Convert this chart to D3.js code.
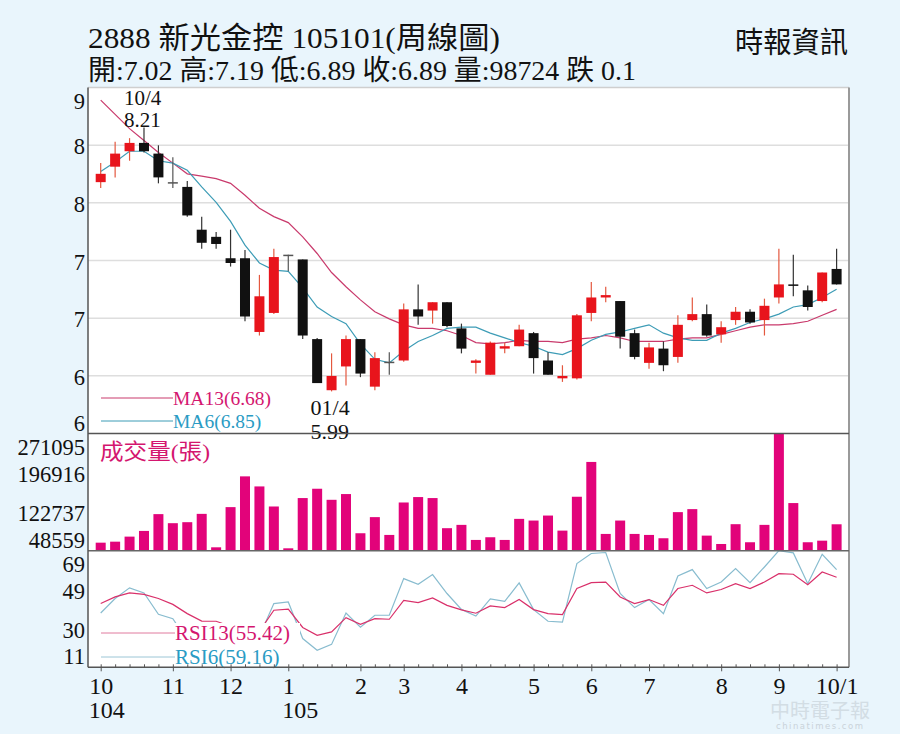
<!DOCTYPE html>
<html><head><meta charset="utf-8">
<script src="https://cdn.jsdelivr.net/npm/d3@7"></script>
<style>body{margin:0;background:#e9f5fc;} svg{display:block}</style>
</head><body>
<svg id="c" width="900" height="734"></svg>
<script>
// ---------- data ----------
const opens  = [7.75,7.88,8.01,8.08,7.99,7.75,7.71,7.35,7.29,7.11,7.11,6.49,6.65,7.14,7.10,6.43,6.00,6.20,6.43,6.03,6.24,6.25,6.68,6.67,6.74,6.52,6.23,6.13,6.35,6.37,6.48,6.25,6.10,6.10,6.65,6.78,6.75,6.48,6.23,6.35,6.28,6.59,6.64,6.47,6.59,6.66,6.59,6.78,6.89,6.84,6.75,7.02];
const highs  = [7.91,8.09,8.12,8.21,8.06,7.96,7.76,7.46,7.33,7.35,7.18,6.97,7.19,7.14,7.10,6.44,6.31,6.46,6.43,6.32,6.32,6.73,6.89,6.74,6.74,6.56,6.26,6.41,6.40,6.55,6.49,6.32,6.21,6.64,6.91,6.87,6.75,6.51,6.40,6.41,6.63,6.78,6.72,6.58,6.70,6.68,6.77,7.19,7.14,6.88,6.99,7.19];
const lows   = [7.70,7.79,7.93,8.00,7.74,7.70,7.46,7.19,7.19,7.04,6.58,6.46,6.64,7.00,6.43,6.06,5.99,6.04,6.11,6.00,6.13,6.24,6.55,6.56,6.53,6.31,6.14,6.13,6.31,6.37,6.14,6.13,6.07,6.09,6.58,6.74,6.35,6.26,6.18,6.16,6.23,6.58,6.45,6.40,6.55,6.56,6.46,6.73,6.79,6.67,6.74,6.89];
const closes = [7.82,7.99,8.08,8.01,7.79,7.75,7.47,7.24,7.23,7.07,6.62,6.79,7.12,7.14,6.46,6.06,6.12,6.43,6.14,6.27,6.24,6.68,6.62,6.74,6.54,6.35,6.25,6.40,6.37,6.51,6.27,6.13,6.12,6.63,6.78,6.80,6.45,6.28,6.36,6.21,6.55,6.64,6.46,6.53,6.66,6.57,6.71,6.89,6.88,6.70,6.99,6.89];
const ma13 = [8.44,8.32,8.20,8.10,8.00,7.91,7.82,7.80,7.78,7.74,7.64,7.53,7.46,7.41,7.29,7.15,6.99,6.87,6.76,6.66,6.60,6.55,6.52,6.52,6.50,6.46,6.40,6.39,6.40,6.42,6.41,6.41,6.40,6.43,6.44,6.46,6.44,6.41,6.41,6.41,6.43,6.44,6.44,6.47,6.50,6.53,6.55,6.55,6.56,6.58,6.63,6.68];
const ma6  = [7.84,7.92,8.01,8.01,7.93,7.91,7.85,7.71,7.58,7.42,7.22,7.07,7.01,7.00,6.86,6.70,6.62,6.56,6.39,6.26,6.23,6.33,6.41,6.46,6.52,6.53,6.53,6.48,6.44,6.40,6.37,6.32,6.30,6.35,6.42,6.47,6.49,6.52,6.55,6.48,6.44,6.42,6.42,6.48,6.52,6.57,6.60,6.64,6.70,6.72,6.78,6.85];
const volumes = [63800,65700,75300,86100,118000,100800,102700,118500,55000,131300,189700,170600,132500,53100,148500,166200,145200,156100,81700,112300,78500,140100,150400,148500,91300,97600,69000,74100,69000,109000,105800,115300,86700,151000,217100,80400,105800,80400,78500,72200,121800,127500,77200,61300,98900,64600,97600,271095,139000,64600,67600,98724];
const rsi13 = [42.3,45.6,47.6,46.9,44.8,41.9,37.3,33.6,33.5,31.0,26.0,28.5,39.0,39.5,30.4,26.5,28.2,35.3,32.0,34.8,34.5,43.9,42.8,45.1,41.4,39.2,37.5,41.1,40.3,44.3,39.3,37.3,36.8,49.8,52.7,53.0,45.6,42.3,44.3,41.4,49.8,51.4,47.6,49.3,52.2,49.8,53.0,57.2,56.9,51.7,58.0,55.42];
const rsi6  = [37.6,44.8,50.1,47.6,37.0,34.8,24.0,22.0,20.0,19.0,14.0,26.0,42.3,43.1,24.9,19.1,22.0,37.6,30.6,36.5,36.5,54.7,51.9,56.7,47.3,39.4,36.1,44.6,43.4,52.6,39.3,33.5,33.1,62.2,67.2,67.7,47.3,40.3,44.3,37.3,56.0,59.2,49.8,53.0,59.7,52.7,60.5,68.6,67.5,52.2,66.8,59.16];

const priceTicks = [8.546,8.061,7.576,7.091,6.606,6.121,5.636];
const priceTickLabels = ["9","8","8","7","7","6","6"];
const volTicks = [271095,196916,122737,48559];
const rsiTicks = [68.6,49.2,29.9,10.6];
const rsiTickLabels = ["69","49","30","11"];
const monthIdx = [0,5,9,13,18,21,25,30,34,38,43,47,51];
const monthLabels = ["10","11","12","1","2","3","4","5","6","7","8","9","10/1"];
const yearIdx = [0,13];
const yearLabels = ["104","105"];

// ---------- layout ----------
const X0=88, X1=849, PT=87.5, PB=433.5, VB=550.7, RB=667.3;
const SERIF = "'Liberation Serif','Noto Sans CJK TC',serif";
const svg = d3.select('#c');
svg.append('rect').attr('width',900).attr('height',734).attr('fill','#e9f5fc');
svg.append('rect').attr('x',X0).attr('y',PT).attr('width',X1-X0).attr('height',RB-PT).attr('fill','#fff');

const x = d3.scaleLinear().domain([0,51]).range([100.7,836.6]);
const y = d3.scaleLinear().domain([priceTicks[6],priceTicks[0]]).range([PB,PT]);
const yv = d3.scaleLinear().domain([volTicks[3],volTicks[0]]).range([VB,PB]);
const yr = d3.scaleLinear().domain([rsiTicks[3],rsiTicks[0]]).range([RB,VB]);

// grid in price panel
svg.append('g').selectAll('line').data(priceTicks.slice(1,6)).join('line')
  .attr('x1',X0).attr('x2',X1).attr('y1',d=>y(d)).attr('y2',d=>y(d))
  .attr('stroke','#dedede').attr('stroke-width',1.5);

// MA lines
const lineP = d3.line().x((d,i)=>x(i)).y(d=>y(d));
svg.append('path').datum(ma13).attr('d',lineP).attr('fill','none').attr('stroke','#c93a6c').attr('stroke-width',1.2);
svg.append('path').datum(ma6).attr('d',lineP).attr('fill','none').attr('stroke','#3d9cb6').attr('stroke-width',1.2);

// candles
const cdata = opens.map((o,i)=>({i,o,h:highs[i],l:lows[i],c:closes[i]}));
const col = d=> d.c>d.o ? '#e8141c' : (d.c<d.o ? '#111111' : '#555555');
const wcol = d=> d.c>d.o ? '#e4583f' : (d.c<d.o ? '#333333' : '#555555');
const cg = svg.append('g');
cg.selectAll('line.w').data(cdata).join('line').attr('class','w')
  .attr('x1',d=>x(d.i)).attr('x2',d=>x(d.i)).attr('y1',d=>y(d.h)).attr('y2',d=>y(d.l))
  .attr('stroke',wcol).attr('stroke-width',1.2);
cg.selectAll('rect').data(cdata).join('rect')
  .attr('x',d=>x(d.i)-5).attr('width',10)
  .attr('y',d=>y(Math.max(d.o,d.c)))
  .attr('height',d=>Math.max(1.5, Math.abs(y(d.o)-y(d.c))))
  .attr('fill',col);

// price labels
const lab = (t,xx,yy,opt={})=>svg.append('text').attr('x',xx).attr('y',yy).text(t)
  .attr('font-family',SERIF).attr('font-size',opt.size||22).attr('fill',opt.fill||'#111')
  .attr('text-anchor',opt.anchor||'start');
const hiI = highs.indexOf(d3.max(highs)), loI = lows.indexOf(d3.min(lows));
lab('10/4', x(hiI)-20, 105, {size:21});
lab(d3.max(highs).toFixed(2), x(hiI)-20, 127, {size:21});
lab('01/4', x(loI)-21, 415, {size:22});
lab(d3.min(lows).toFixed(2), x(loI)-21, 439, {size:22});

// legends
function legend(yy, color, tcolor, text, x2, fs){
  svg.append('line').attr('x1',101).attr('x2',x2).attr('y1',yy).attr('y2',yy).attr('stroke',color).attr('stroke-width',1);
  svg.append('text').attr('x',x2).attr('y',yy+7).text(text).attr('font-family',SERIF)
    .attr('font-size',fs).attr('fill',tcolor);
}
legend(398, '#c93a6c', '#d4166f', 'MA13('+ma13[51].toFixed(2)+')', 173, 19.5);
legend(421, '#3d9cb6', '#2a9bc4', 'MA6('+ma6[51].toFixed(2)+')', 173, 19.5);

// volume bars
svg.append('g').selectAll('rect').data(volumes).join('rect')
  .attr('x',(d,i)=>x(i)-5).attr('width',10)
  .attr('y',d=>Math.min(yv(d),VB-2)).attr('height',d=>Math.max(2,VB-yv(d)))
  .attr('fill','#e2037a');
svg.append('text').attr('x',100).attr('y',459).text('成交量(張)').attr('font-family',SERIF)
  .attr('font-size',22).attr('fill','#d4166f').attr('textLength',110).attr('lengthAdjust','spacingAndGlyphs');

// RSI lines
const lineR = d3.line().x((d,i)=>x(i)).y(d=>yr(d));
svg.append('path').datum(rsi6).attr('d',lineR).attr('fill','none').attr('stroke','#88bccf').attr('stroke-width',1.2);
svg.append('path').datum(rsi13).attr('d',lineR).attr('fill','none').attr('stroke','#d9306a').attr('stroke-width',1.2);
// legend box hides lines behind it
svg.append('rect').attr('x',174).attr('y',623).attr('width',126).attr('height',RB-623).attr('fill','#fff');
legend(633, '#e07a9e', '#d4166f', 'RSI13('+rsi13[51].toFixed(2)+')', 175, 21);
legend(657, '#9cc6d6', '#2a9bc4', 'RSI6('+rsi6[51].toFixed(2)+')', 175, 21);

// frame / separators
svg.append('line').attr('x1',X0).attr('x2',X1).attr('y1',PT).attr('y2',PT).attr('stroke','#cfcfcf').attr('stroke-width',1.5);
svg.append('line').attr('x1',X1).attr('x2',X1).attr('y1',PT).attr('y2',RB).attr('stroke','#9a9a9a').attr('stroke-width',2);
svg.append('line').attr('x1',X0).attr('x2',X1).attr('y1',PB).attr('y2',PB).attr('stroke','#555').attr('stroke-width',1.5);
svg.append('line').attr('x1',X0).attr('x2',X1).attr('y1',VB).attr('y2',VB).attr('stroke','#666').attr('stroke-width',1.5);

// y axes
function yAxis(scale, ticks, labels, top, bottom){
  const g = svg.append('g').attr('transform',`translate(${X0},0)`)
    .call(d3.axisLeft(scale).tickValues(ticks).tickFormat((d,i)=>labels[i]).tickSize(0).tickPadding(3));
  g.select('.domain').remove();
  g.selectAll('text').attr('font-family',SERIF).attr('font-size',22.5).attr('fill','#111')
    .attr('dy',null).attr('dominant-baseline','central')
    .attr('y',function(d){const v=scale(d); return Math.min(Math.max(v,top+12),bottom-12)-v+1;});
}
yAxis(y, priceTicks, priceTickLabels, PT, PB);
yAxis(yv, volTicks, volTicks.map(String), PB, VB);
yAxis(yr, rsiTicks, rsiTickLabels, VB, RB);
svg.append('line').attr('x1',X0).attr('x2',X0).attr('y1',PT).attr('y2',RB).attr('stroke','#555').attr('stroke-width',1.5);

// x axis
const xg = svg.append('g').attr('transform',`translate(0,${RB})`)
  .call(d3.axisBottom(x).tickValues(d3.range(52)).tickSize(-3).tickFormat(''));
xg.select('.domain').attr('d',`M${X0},0H${X1}`).attr('stroke','#555').attr('stroke-width',1.5);
xg.selectAll('.tick line').attr('stroke','#555');
const xm = svg.append('g').attr('transform',`translate(0,${RB})`)
  .call(d3.axisBottom(x).tickValues(monthIdx).tickFormat((d,i)=>monthLabels[i]).tickSize(4).tickPadding(6));
xm.select('.domain').remove();
xm.selectAll('.tick line').attr('stroke','#555');
xm.selectAll('text').attr('font-family',SERIF).attr('font-size',24).attr('fill','#111');
yearIdx.forEach((idx,k)=>{
  const mt = xm.selectAll('text').filter(d=>d===idx).node();
  const bb = mt.getBBox();
  svg.append('text').attr('x',x(idx)+bb.x).attr('y',RB+51).text(yearLabels[k])
    .attr('font-family',SERIF).attr('font-size',24).attr('fill','#111');
});

// header
svg.append('text').attr('x',88).attr('y',48).text('2888  新光金控 105101(周線圖)')
  .attr('font-family',SERIF).attr('font-size',30).attr('fill','#111')
  .attr('textLength',412).attr('lengthAdjust','spacingAndGlyphs');
svg.append('text').attr('x',88).attr('y',80)
  .text(`開:${opens[51].toFixed(2)} 高:${highs[51].toFixed(2)} 低:${lows[51].toFixed(2)} 收:${closes[51].toFixed(2)} 量:${volumes[51]} 跌 0.1`)
  .attr('font-family',SERIF).attr('font-size',28).attr('fill','#111')
  .attr('textLength',548).attr('lengthAdjust','spacingAndGlyphs');
svg.append('text').attr('x',735).attr('y',53).text('時報資訊')
  .attr('font-family',SERIF).attr('font-size',29).attr('fill','#111')
  .attr('textLength',113).attr('lengthAdjust','spacingAndGlyphs');

// watermark (kept just below the month labels)
svg.append('text').attr('x',770).attr('y',718).text('中時電子報').attr('font-family',SERIF)
  .attr('font-size',20).attr('fill','#c9d3da').attr('opacity',0.7);
svg.append('text').attr('x',776).attr('y',729).text('chinatimes.com').attr('font-family',"'DejaVu Sans',sans-serif")
  .attr('font-size',8.5).attr('fill','#c9d3da').attr('letter-spacing',1.5);
</script>
</body></html>
